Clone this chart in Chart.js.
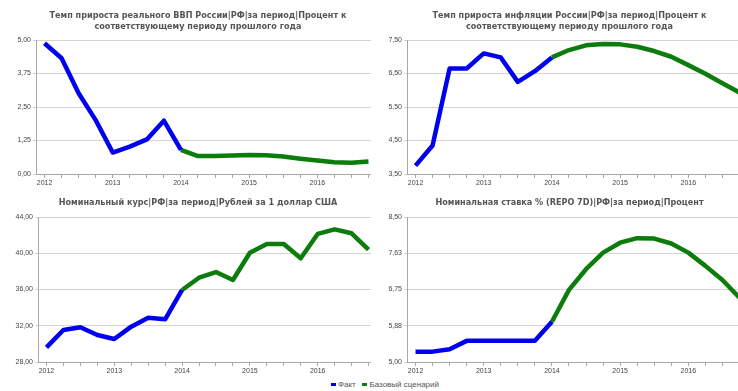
<!DOCTYPE html>
<html>
<head>
<meta charset="utf-8">
<script src="https://cdn.jsdelivr.net/npm/chart.js@4.4.1/dist/chart.umd.min.js"></script>
<style>
  body { margin: 0; width: 738px; height: 391px; background: #fff; position: relative; overflow: hidden; }
  .panel { position: absolute; overflow: hidden; }
  .panel canvas { position: absolute; left: 0; top: 0; }
  .title { position: absolute; left: 0; width: 397px; text-align: center; font: bold 9px/11px "DejaVu Sans Condensed", "DejaVu Sans", sans-serif; color: #555; white-space: nowrap; }
  #legend { position: absolute; left: 331px; top: 380px; font: 8px "Liberation Sans", Arial, sans-serif; color: #555; white-space: nowrap; }
  #legend i { display: inline-block; width: 5px; height: 3px; margin: 0 2px 1px 0; vertical-align: middle; }
</style>
</head>
<body>
<div class="panel" style="left:0;top:0;width:371px;height:190px">
  <canvas id="gdp" width="377" height="190"></canvas>
  <div class="title" style="top:10px;width:396px">Темп прироста реального ВВП России|РФ|за период|Процент к<br>соответствующему периоду прошлого года</div>
</div>
<div class="panel" style="left:371px;top:0;width:367px;height:190px">
  <canvas id="infl" width="377" height="190"></canvas>
  <div class="title" style="top:10px">Темп прироста инфляции России|РФ|за период|Процент к<br>соответствующему периоду прошлого года</div>
</div>
<div class="panel" style="left:0;top:190px;width:371px;height:190px">
  <canvas id="rate" width="377" height="190"></canvas>
  <div class="title" style="top:7px;width:396px">Номинальный курс|РФ|за период|Рублей за 1 доллар США</div>
</div>
<div class="panel" style="left:371px;top:190px;width:367px;height:190px">
  <canvas id="repo" width="377" height="190"></canvas>
  <div class="title" style="top:7px">Номинальная ставка % (REPO 7D)|РФ|за период|Процент</div>
</div>
<div id="legend"><i style="background:#0000ee"></i>Факт&nbsp;&nbsp;&nbsp;<i style="background:#0c7c0c"></i>Базовый сценарий</div>
<script>
// Кварталы 2012–2016
const quarters = [
  '2012 I', '2012 II', '2012 III', '2012 IV',
  '2013 I', '2013 II', '2013 III', '2013 IV',
  '2014 I', '2014 II', '2014 III', '2014 IV',
  '2015 I', '2015 II', '2015 III', '2015 IV',
  '2016 I', '2016 II', '2016 III', '2016 IV'
];

// ВВП: факт (2012 I – 2014 I) и базовый сценарий (2014 I – 2016 IV)
const gdpFact = [4.88, 4.32, 3.01, 2.01, 0.80, 1.02, 1.29, 1.99, 0.90];
const gdpBase = [0.90, 0.67, 0.67, 0.69, 0.71, 0.70, 0.65, 0.57, 0.50, 0.44, 0.42, 0.47];
const gdpTicks = [0, 1.25, 2.5, 3.75, 5];

// Инфляция
const inflFact = [3.75, 4.35, 6.65, 6.65, 7.10, 6.98, 6.25, 6.57, 6.98];
const inflBase = [6.98, 7.20, 7.34, 7.38, 7.37, 7.30, 7.17, 7.00, 6.75, 6.49, 6.21, 5.93];
const inflTicks = [3.5, 4.5, 5.5, 6.5, 7.5];

// Курс рубля
const rateFact = [29.62, 31.53, 31.83, 30.98, 30.54, 31.90, 32.89, 32.71, 35.95];
const rateBase = [35.95, 37.30, 37.93, 37.05, 40.06, 41.02, 41.02, 39.44, 42.13, 42.64, 42.20, 40.40];
const rateTicks = [28, 32, 36, 40, 44];

// Ставка REPO 7D
const repoFact = [5.25, 5.25, 5.31, 5.51, 5.51, 5.51, 5.51, 5.51, 5.97];
const repoBase = [5.97, 6.74, 7.24, 7.64, 7.88, 7.99, 7.98, 7.86, 7.64, 7.32, 6.98, 6.55];
const repoTicks = [5, 5.875, 6.75, 7.625, 8.5];

const FACT_COLOR = '#0000ee';
const BASE_COLOR = '#0c7c0c';
const TICK_FONT = { family: '"Liberation Sans", Arial, sans-serif', size: 7 };

function fmt(v) {
  return v.toFixed(2).replace('.', ',');
}

// факт до индекса 8, сценарий — с индекса 8
function fill(fact, base) {
  const n = quarters.length;
  const a = fact.concat(new Array(n - fact.length).fill(null));
  const b = new Array(n - base.length).fill(null).concat(base);
  return [a, b];
}

function createLineChart(id, fact, base, ticks, o) {
  const [a, b] = fill(fact, base);
  const ds = (data, color) => ({
    data: data,
    borderColor: color,
    borderWidth: 4.5,
    pointRadius: 0,
    tension: 0,
    borderJoinStyle: 'round'
  });
  return new Chart(document.getElementById(id), {
    type: 'line',
    data: { labels: quarters, datasets: [ds(a, FACT_COLOR), ds(b, BASE_COLOR)] },
    options: {
      responsive: false,
      animation: false,
      layout: { padding: { left: 0, right: 0, top: o.top, bottom: 0 } },
      plugins: {
        legend: { display: false },
        tooltip: { enabled: false },
        title: { display: false }
      },
      scales: {
        x: {
          type: 'category',
          offset: true,
          grid: { offset: false, drawOnChartArea: false, drawTicks: true, tickLength: 4, color: '#a8a8a8' },
          border: { display: true, color: '#a8a8a8' },
          ticks: {
            autoSkip: false, maxRotation: 0, padding: 1, color: '#444', font: TICK_FONT,
            callback: function(v, i) { return i % 4 === 0 ? quarters[i].slice(0, 4) : ''; }
          },
          afterFit: s => { s.height = o.xHeight; }
        },
        y: {
          min: ticks[0],
          max: ticks[ticks.length - 1],
          grid: { color: '#d4d4d4', tickLength: 3 },
          border: { display: true, color: '#a8a8a8' },
          ticks: { padding: 2, color: '#444', font: TICK_FONT, callback: v => fmt(v) },
          afterBuildTicks: s => { s.ticks = ticks.map(v => ({ value: v })); },
          afterFit: s => { s.width = o.yWidth; }
        }
      }
    }
  });
}

createLineChart('gdp', gdpFact, gdpBase, gdpTicks, { top: 40, yWidth: 36, xHeight: 16 });
createLineChart('infl', inflFact, inflBase, inflTicks, { top: 40, yWidth: 36, xHeight: 16 });
createLineChart('rate', rateFact, rateBase, rateTicks, { top: 27, yWidth: 38, xHeight: 18 });
createLineChart('repo', repoFact, repoBase, repoTicks, { top: 27, yWidth: 36, xHeight: 18 });
</script>
</body>
</html>
